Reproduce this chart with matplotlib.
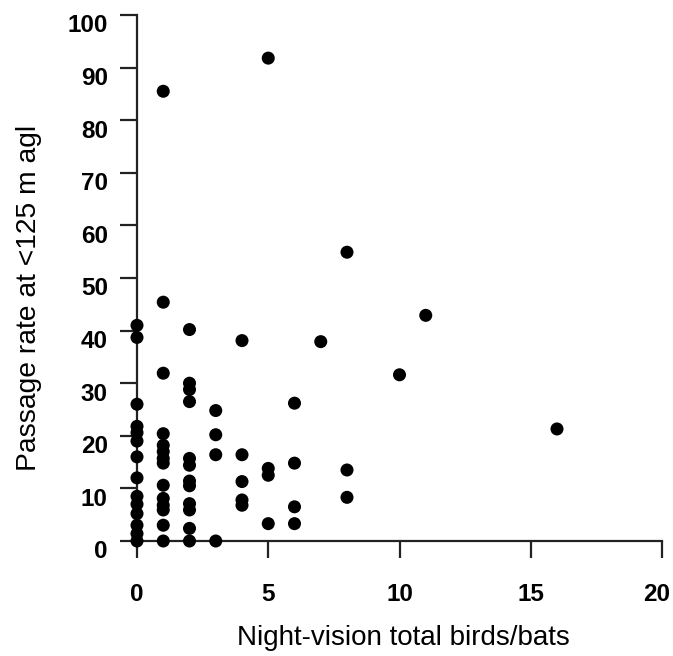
import matplotlib
matplotlib.use("Agg")
import matplotlib.pyplot as plt
import matplotlib.transforms as mtransforms

# night-vision counts (x) and passage rate below 125 m (y), grouped by count
nv_0 = [41, 38.7, 26, 21.8, 20.6, 19, 16, 12, 8.5, 7, 5.2, 3, 1.4, 0]
nv_1 = [85.5, 45.4, 31.9, 20.4, 18.2, 17, 15.7, 14.8, 10.6, 8.1, 6.8, 5.9, 3, 0]
nv_2 = [40.2, 30, 28.8, 26.5, 15.7, 14.4, 11.4, 10.5, 7.1, 5.9, 2.4, 0]
nv_3 = [24.8, 20.2, 16.4, 0]
nv_4 = [38.1, 16.4, 11.3, 7.8, 6.8]
nv_5 = [91.8, 13.8, 12.5, 3.3]
nv_6 = [26.2, 14.8, 6.5, 3.3]
nv_7 = [37.9]
nv_8 = [54.9, 13.5, 8.3]
nv_10 = [31.6]
nv_11 = [42.9]
nv_16 = [21.3]

groups = {0: nv_0, 1: nv_1, 2: nv_2, 3: nv_3, 4: nv_4, 5: nv_5, 6: nv_6,
          7: nv_7, 8: nv_8, 10: nv_10, 11: nv_11, 16: nv_16}

x_ticks = [0, 5, 10, 15, 20]
y_ticks = list(range(0, 101, 10))

plt.rcParams["font.family"] = ["Liberation Sans", "DejaVu Sans"]

fig = plt.figure(figsize=(6.73, 6.56), dpi=100)
ax = fig.add_axes([137 / 673, 1 - 541 / 656, 525 / 673, 526 / 656])

xs, ys = [], []
for count, rates in groups.items():
    xs.extend([count] * len(rates))
    ys.extend(rates)
ax.scatter(xs, ys, s=88, color="black", edgecolors="none", clip_on=False, zorder=3)

ax.set_xlim(0, 20)
ax.set_ylim(0, 100)
ax.set_xticks(x_ticks)
ax.set_yticks(y_ticks)

for side in ("top", "right"):
    ax.spines[side].set_visible(False)
for side in ("left", "bottom"):
    ax.spines[side].set_linewidth(1.6)
    ax.spines[side].set_color("#222222")

ax.tick_params(axis="both", length=12, width=1.6, color="#222222",
               labelsize=17.5)
ax.tick_params(axis="x", pad=18)
ax.tick_params(axis="y", pad=9)
for lab in ax.get_xticklabels() + ax.get_yticklabels():
    lab.set_fontweight("bold")

# nudge y tick labels slightly downward, keep the last x label inside
down = mtransforms.ScaledTranslation(0, -6 / 72, fig.dpi_scale_trans)
for lab in ax.get_yticklabels():
    lab.set_transform(lab.get_transform() + down)
left = mtransforms.ScaledTranslation(-4 / 72, 0, fig.dpi_scale_trans)
last = ax.get_xticklabels()[-1]
last.set_transform(last.get_transform() + left)

ax.set_xlabel("Night-vision total birds/bats", fontsize=20)
ax.set_ylabel("Passage rate at <125 m agl", fontsize=20.3)
ax.xaxis.set_label_coords(0.507, -0.160)
ax.yaxis.set_label_coords(-0.181, 0.463)

fig.savefig("out.png", dpi=100)
